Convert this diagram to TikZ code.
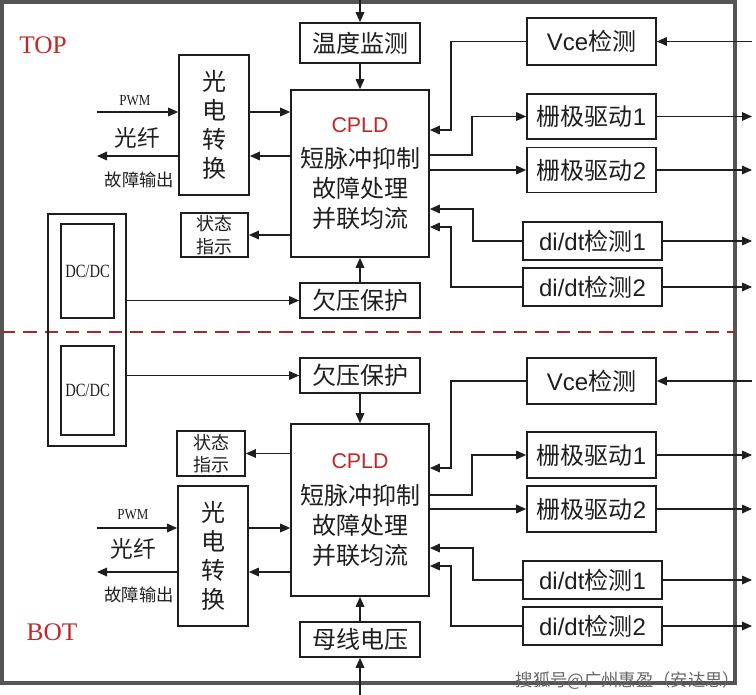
\documentclass[tikz,border=0pt]{standalone}
\usepackage{fontspec}
\usepackage{graphicx}
\setmainfont{Liberation Serif}
\newfontfamily\cjk{Noto Sans CJK SC}
\newfontfamily\arialf{Liberation Sans}
\usetikzlibrary{arrows.meta}
\definecolor{dred}{RGB}{190,40,40}
\definecolor{dashred}{RGB}{170,40,45}
\definecolor{framegray}{RGB}{85,85,85}
\definecolor{ink}{RGB}{30,30,30}
\begin{document}
\begin{tikzpicture}[x=0.75pt,y=-0.75pt,
  box/.style={draw=ink,line width=1.3pt,inner sep=0pt,text=ink},
  sz/.style 2 args={minimum width=#1*0.75pt,minimum height=#2*0.75pt},
  big/.style={font=\fontsize{18}{20}\selectfont},
  cj/.style={font=\cjk\fontsize{18}{20}\selectfont},
  vert/.style={align=center,font=\cjk\fontsize{18}{21.75}\selectfont},
  small/.style={align=center,font=\cjk\fontsize{13.5}{17}\selectfont},
  cpld/.style={align=center,font=\cjk\fontsize{18}{22.5}\selectfont},
  lbl/.style={inner sep=0pt,text=ink},
  arr/.style={draw=ink,line width=0.9pt,-{Triangle[length=7.5pt,width=6.5pt]}},
  secname/.style={inner sep=0pt,text=dred,font=\fontsize{19}{21}\selectfont}]
\useasboundingbox (0,0) rectangle (756,695);
% frame and divider
\draw[framegray,line width=2.4pt] (2,2) rectangle (735,683);
\draw[dashred,line width=2pt,dash pattern=on 10pt off 6pt] (2,332) -- (735,332);
\coordinate (outR) at (752,0);
\coordinate (leftL) at (97,0);
\coordinate (topin) at (360,0);
\coordinate (botin) at (360,695);

% ---------------- TOP ----------------
\node[secname] (topl) at (43,45) {TOP};
\node[box,sz={120}{40},cj] (temp) at (360,43) {温度监测};
\node[box,sz={138}{167},cpld] (cpldT) at (360,173.5)
  {{\arialf\fontsize{16}{18}\selectfont\color{dred}CPLD}\\[4pt]短脉冲抑制\\故障处理\\并联均流};
\node[box,sz={70}{140},vert] (gdT) at (214,125) {光\\电\\转\\换};
\node[box,sz={67}{44},small] (ztT) at (214.5,235) {状态\\指示};
\node[box,sz={120}{35},cj] (uvT) at (360,300.5) {欠压保护};
\node[box,sz={129}{47},big] (vceT) at (591.5,41.5) {\arialf Vce\cjk 检测};
\node[box,sz={129}{45},big] (g1T) at (591.5,116.5) {\cjk 栅极驱动\arialf 1};
\node[box,sz={129}{45},big] (g2T) at (591.5,170) {\cjk 栅极驱动\arialf 2};
\node[box,sz={139}{38},big] (d1T) at (592.5,241) {\arialf di/dt\cjk 检测\arialf 1};
\node[box,sz={139}{38},big] (d2T) at (592.5,287) {\arialf di/dt\cjk 检测\arialf 2};
\node[lbl,font=\fontsize{11.5}{12}\selectfont] (pwmT) at (135,101) {\scalebox{0.85}[1]{PWM}};
\node[lbl,font=\cjk\fontsize{17}{18}\selectfont] (fibT) at (137,138) {光纤};
\node[lbl,font=\cjk\fontsize{13}{14}\selectfont] (fltT) at (139.5,180) {故障输出};

% DC/DC
\node[box,sz={78}{232}] (dcO) at (87,330) {};
\node[box,sz={53}{94},font=\fontsize{14}{15}\selectfont] (dcT) at (87.5,271) {\scalebox{0.78}[1]{DC/DC}};
\node[box,sz={53}{89},font=\fontsize{14}{15}\selectfont] (dcB) at (87.5,390.5) {\scalebox{0.78}[1]{DC/DC}};

\draw[arr] (topin) -- (temp.north);
\draw[arr] (temp.south) -- (cpldT.north);
\draw[arr] (leftL |- 0,112) -- (gdT.west |- 0,112);
\draw[arr] (gdT.east |- 0,112) -- (cpldT.west |- 0,112);
\draw[arr] (cpldT.west |- 0,156) -- (gdT.east |- 0,156);
\draw[arr] (gdT.west |- 0,156) -- (leftL |- 0,156);
\draw[arr] (cpldT.west |- ztT.east) -- (ztT.east);
\draw[arr] (dcO.east |- uvT.west) -- (uvT.west);
\draw[arr] (uvT.north) -- (cpldT.south);
\draw[arr] (vceT.east -| outR) -- (vceT.east);
\draw[arr] (vceT.west) -| (451,130) -- (cpldT.east |- 0,130);
\draw[arr] (cpldT.east |- 0,155) -| (472,116.5) -- (g1T.west);
\draw[arr] (cpldT.east |- g2T.west) -- (g2T.west);
\draw[arr] (d1T.west) -| (473,209) -- (cpldT.east |- 0,209);
\draw[arr] (d2T.west) -| (451,227) -- (cpldT.east |- 0,227);
\draw[arr] (g1T.east) -- (g1T.east -| outR);
\draw[arr] (g2T.east) -- (g2T.east -| outR);
\draw[arr] (d1T.east) -- (d1T.east -| outR);
\draw[arr] (d2T.east) -- (d2T.east -| outR);

% ---------------- BOT ----------------
\node[secname] (botl) at (52,632) {BOT};
\node[box,sz={120}{35},cj] (uvB) at (360,375.5) {欠压保护};
\node[box,sz={138}{172},cpld] (cpldB) at (360,510)
  {{\arialf\fontsize{16}{18}\selectfont\color{dred}CPLD}\\[4pt]短脉冲抑制\\故障处理\\并联均流};
\node[box,sz={68}{45},small] (ztB) at (211,453.5) {状态\\指示};
\node[box,sz={70}{140},vert] (gdB) at (213,556) {光\\电\\转\\换};
\node[box,sz={120}{35},cj] (busB) at (360,639.5) {母线电压};
\node[box,sz={129}{46},big] (vceB) at (591.5,381) {\arialf Vce\cjk 检测};
\node[box,sz={129}{46},big] (g1B) at (591.5,455) {\cjk 栅极驱动\arialf 1};
\node[box,sz={129}{46},big] (g2B) at (591.5,509) {\cjk 栅极驱动\arialf 2};
\node[box,sz={139}{38},big] (d1B) at (592.5,580) {\arialf di/dt\cjk 检测\arialf 1};
\node[box,sz={139}{38},big] (d2B) at (592.5,626) {\arialf di/dt\cjk 检测\arialf 2};
\node[lbl,font=\fontsize{11.5}{12}\selectfont] (pwmB) at (133,515) {\scalebox{0.85}[1]{PWM}};
\node[lbl,font=\cjk\fontsize{17}{18}\selectfont] (fibB) at (133,549) {光纤};
\node[lbl,font=\cjk\fontsize{13}{14}\selectfont] (fltB) at (139,595) {故障输出};

\draw[arr] (dcO.east |- uvB.west) -- (uvB.west);
\draw[arr] (uvB.south) -- (cpldB.north);
\draw[arr] (cpldB.west |- ztB.east) -- (ztB.east);
\draw[arr] (leftL |- 0,528) -- (gdB.west |- 0,528);
\draw[arr] (gdB.east |- 0,528) -- (cpldB.west |- 0,528);
\draw[arr] (cpldB.west |- 0,572) -- (gdB.east |- 0,572);
\draw[arr] (gdB.west |- 0,572) -- (leftL |- 0,572);
\draw[arr] (botin) -- (busB.south);
\draw[arr] (busB.north) -- (cpldB.south);
\draw[arr] (vceB.east -| outR) -- (vceB.east);
\draw[arr] (vceB.west) -| (451,468) -- (cpldB.east |- 0,468);
\draw[arr] (cpldB.east |- 0,495) -| (472,455) -- (g1B.west);
\draw[arr] (cpldB.east |- g2B.west) -- (g2B.west);
\draw[arr] (d1B.west) -| (473,548) -- (cpldB.east |- 0,548);
\draw[arr] (d2B.west) -| (451,566) -- (cpldB.east |- 0,566);
\draw[arr] (g1B.east) -- (g1B.east -| outR);
\draw[arr] (g2B.east) -- (g2B.east -| outR);
\draw[arr] (d1B.east) -- (d1B.east -| outR);
\draw[arr] (d2B.east) -- (d2B.east -| outR);

% watermark
\node[inner sep=0pt,text=black!60,font=\cjk\fontsize{13}{14}\selectfont] (wm) at (628,681) {搜狐号@广州惠盈（安达思）};
\end{tikzpicture}
\end{document}
